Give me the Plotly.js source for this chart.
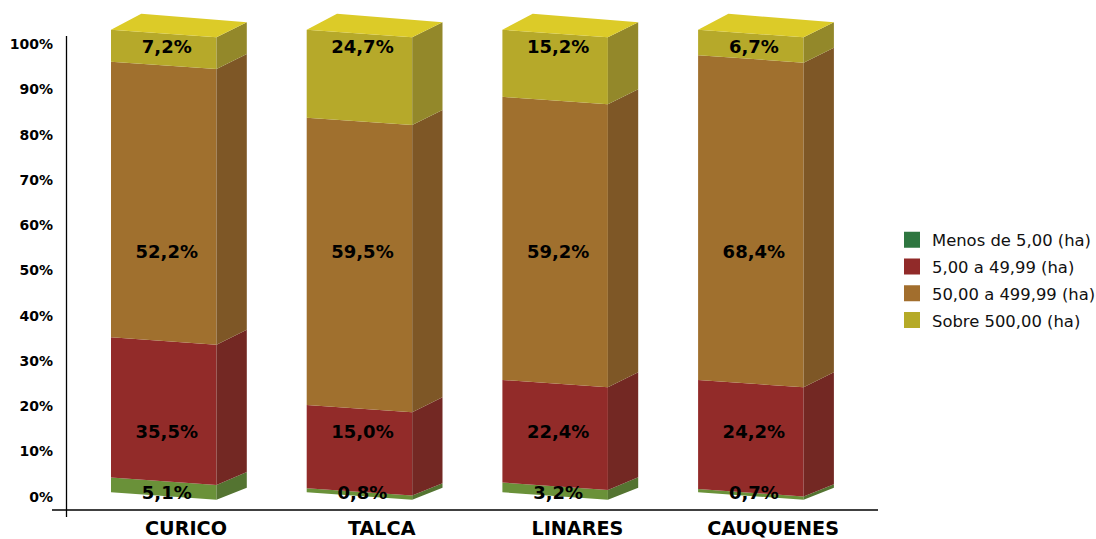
<!DOCTYPE html>
<html>
<head>
<meta charset="utf-8">
<script src="https://cdn.plot.ly/plotly-3.0.1.min.js"></script>
<style>html,body{margin:0;padding:0;background:#fff;}#chart{width:1096px;height:539px;}</style>
</head>
<body>
<div id="chart"></div>
<script>
// ---------------- data ----------------
const categories = ['CURICO', 'TALCA', 'LINARES', 'CAUQUENES'];
const seriesNames = ['Menos de 5,00 (ha)', '5,00 a 49,99 (ha)', '50,00 a 499,99 (ha)', 'Sobre 500,00 (ha)'];

// segment heights as drawn in the picture (%)
const menos5 = [3.2, 0.9, 2.1, 0.7];
const de5a50 = [30.3, 18.0, 22.2, 23.6];
const de50a500 = [59.6, 62.1, 61.2, 70.2];
const sobre500 = [6.9, 19.0, 14.5, 5.5];

// values printed on the bars (%)
const labelMenos5 = [5.1, 0.8, 3.2, 0.7];
const label5a50 = [35.5, 15.0, 22.4, 24.2];
const label50a500 = [52.2, 59.5, 59.2, 68.4];
const labelSobre500 = [7.2, 24.7, 15.2, 6.7];

const yTickValues = [0, 10, 20, 30, 40, 50, 60, 70, 80, 90, 100];

// ---------------- style ----------------
const heights = [menos5, de5a50, de50a500, sobre500];
const labels = [labelMenos5, label5a50, label50a500, labelSobre500];
const frontColors = ['#6a9139', '#922b29', '#a0702e', '#b6a92a'];
const sideColors  = ['#547431', '#732823', '#7e5726', '#93882a'];
const topColor = '#dccb28';
const legendColors = ['#2e7640', '#912a29', '#a26e2d', '#b5aa27'];
const labelLevels = [0.22, 13.62, 52.33, 96.65];   // fixed text rows (bar axis units)

const W = 1096, H = 539;
const M = {l: 66, r: 218, t: 10, b: 22, autoexpand: false};
const plotW = W - M.l - M.r, plotH = H - M.t - M.b;
const xRange = [-0.6132, -0.6132 + plotW / 195.7];
const yRange = [-20.3 / 4.524, -20.3 / 4.524 + plotH / 4.524];
const y2Range = [-21 / 4.625, -21 / 4.625 + plotH / 4.625];
const pxX = plotW / (xRange[1] - xRange[0]);
const pxY2 = plotH / (y2Range[1] - y2Range[0]);

const frontL = -75 / pxX, frontR = 30.5 / pxX, sideR = 60.8 / pxX;
const slope = 3.7 / pxY2;
function shear(v) { return (12 + 3 * Math.min(v, 10) / 10) / pxY2; }

const traces = [];
// faces
heights.forEach((arr, s) => {
  const fx = [], fy = [], sx = [], sy = [];
  arr.forEach((h, i) => {
    let b = 0;
    for (let k = 0; k < s; k++) b += heights[k][i];
    const t = b + h;
    const xl = i + frontL, xr = i + frontR, xs = i + sideR;
    fx.push(xl, xr, xr, xl, xl, null);
    fy.push(b + slope, b - slope, t - slope, t + slope, b + slope, null);
    sx.push(xr, xs, xs, xr, xr, null);
    sy.push(b - slope, b - slope + shear(b), t - slope + shear(t), t - slope, b - slope, null);
  });
  traces.push({type: 'scatter', x: fx, y: fy, yaxis: 'y2', mode: 'lines', fill: 'toself',
    fillcolor: frontColors[s], line: {width: 0}, showlegend: false, hoverinfo: 'skip'});
  traces.push({type: 'scatter', x: sx, y: sy, yaxis: 'y2', mode: 'lines', fill: 'toself',
    fillcolor: sideColors[s], line: {width: 0}, showlegend: false, hoverinfo: 'skip'});
});
// top faces
(function () {
  const tx = [], ty = [];
  categories.forEach((c, i) => {
    let t = 0;
    heights.forEach(arr => { t += arr[i]; });
    const xl = i + frontL, xr = i + frontR, xs = i + sideR, d = sideR - frontR;
    tx.push(xl, xr, xs, xl + d, xl, null);
    ty.push(t + slope, t - slope, t - slope + shear(t), t + slope + shear(t) + 1 / pxY2, t + slope, null);
  });
  traces.push({type: 'scatter', x: tx, y: ty, yaxis: 'y2', mode: 'lines', fill: 'toself',
    fillcolor: topColor, line: {width: 0}, showlegend: false, hoverinfo: 'skip'});
})();
// value labels
labels.forEach((arr, s) => {
  traces.push({type: 'scatter', mode: 'text', yaxis: 'y2',
    x: categories.map((c, i) => i + frontL / 2 + frontR / 2 + 3 / pxX),
    y: categories.map(() => labelLevels[s]),
    text: arr.map(v => v.toFixed(1).replace('.', ',') + '%'),
    textposition: 'middle center',
    textfont: {family: 'DejaVu Sans', size: 18, color: '#000', weight: 'bold'},
    showlegend: false, hoverinfo: 'skip', cliponaxis: false});
});
// legend entries
seriesNames.forEach((n, s) => {
  traces.push({type: 'scatter', mode: 'markers', x: [null], y: [null], name: n,
    legendgroup: 'g' + s,
    marker: {symbol: 'square', size: 16, color: legendColors[s]}});
});

const layout = {
  width: W, height: H, margin: M,
  paper_bgcolor: '#fff', plot_bgcolor: 'rgba(0,0,0,0)',
  showlegend: true,
  xaxis: {range: xRange, tickvals: [0, 1, 2, 3], ticktext: categories, showgrid: false,
    zeroline: false, showline: false, ticks: '', fixedrange: true, ticklabelstandoff: -2,
    tickfont: {family: 'DejaVu Sans', size: 19.2, color: '#000', weight: 'bold'}},
  yaxis: {range: yRange, tickvals: yTickValues, ticktext: yTickValues.map(v => v + '%'),
    showgrid: false, zeroline: false, showline: false, ticks: '', ticklabelstandoff: 12,
    tickfont: {family: 'DejaVu Sans', size: 14, color: '#000', weight: 'bold'}},
  yaxis2: {range: y2Range, overlaying: 'y', visible: false, showgrid: false, zeroline: false},
  legend: {x: (892 - M.l) / plotW, xanchor: 'left', y: (H - M.b - 280) / plotH, yanchor: 'middle',
    font: {family: 'DejaVu Sans', size: 16.4, color: '#111'}, tracegroupgap: 2.5,
    bgcolor: 'rgba(0,0,0,0)', itemsizing: 'trace'},
  shapes: [
    {type: 'line', xref: 'paper', yref: 'paper', x0: -14 / plotW, x1: (878 - M.l) / plotW,
      y0: 7 / plotH, y1: 7 / plotH, line: {color: '#000', width: 1.3}},
    {type: 'line', xref: 'paper', yref: 'paper', x0: 0.5 / plotW, x1: 0.5 / plotW,
      y0: 0, y1: (H - M.b - 36) / plotH, line: {color: '#000', width: 1.3}}
  ]
};

Plotly.newPlot('chart', traces, layout, {staticPlot: true, displayModeBar: false});
</script>
</body>
</html>
